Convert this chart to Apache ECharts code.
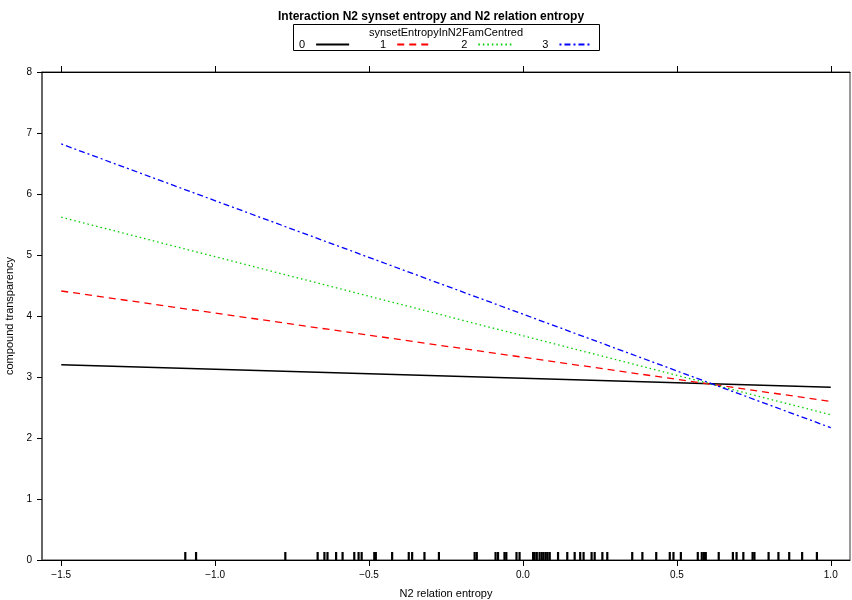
<!DOCTYPE html>
<html>
<head>
<meta charset="utf-8">
<script src="https://cdn.jsdelivr.net/npm/echarts@6/dist/echarts.min.js"></script>
<style>
  html, body { margin: 0; padding: 0; background: #fff; }
  #chart { width: 852px; height: 600px; }
</style>
</head>
<body>
<div id="chart"></div>
<script>
// endpoints of the fitted lines (x = -1.5 and x = 1.0)
const xEnds = [-1.5, 1.0]
const line0 = [3.20, 2.83]
const line1 = [4.41, 2.60]
const line2 = [5.62, 2.38]
const line3 = [6.82, 2.17]
const levelNames = ['0', '1', '2', '3']

// rug of observed N2 relation entropy values
const rugX = [
  -1.097, -1.062, -0.772, -0.667, -0.645, -0.635, -0.607, -0.586, -0.548, -0.534,
  -0.524, -0.483, -0.478, -0.425, -0.371, -0.360, -0.320, -0.273, -0.157, -0.150,
  -0.089, -0.081, -0.060, -0.054, -0.021, -0.011, 0.033, 0.038, 0.045, 0.054,
  0.061, 0.067, 0.074, 0.080, 0.087, 0.114, 0.144, 0.168, 0.186, 0.197,
  0.223, 0.233, 0.258, 0.274, 0.355, 0.388, 0.433, 0.477, 0.489, 0.513,
  0.568, 0.581, 0.588, 0.594, 0.636, 0.682, 0.694, 0.716, 0.746, 0.752,
  0.798, 0.830, 0.865, 0.907, 0.955
]

const xTicks = [-1.5, -1.0, -0.5, 0.0, 0.5, 1.0]

const chart = echarts.init(document.getElementById('chart'))

const fontFamily = 'Liberation Sans, Arial, sans-serif'
const fmtX = v => v.toFixed(1).replace('-', '\u2212')

const lineStyles = [
  { color: '#000000', width: 1.5, type: 'solid' },
  { color: '#ff0000', width: 1.3, type: [7, 5] },
  { color: '#00d000', width: 1.3, type: [1.5, 3] },
  { color: '#0000ff', width: 1.3, type: [2, 3, 6, 3] }
]

const lineSeries = [line0, line1, line2, line3].map((vals, i) => ({
  name: levelNames[i],
  type: 'line',
  symbol: 'none',
  silent: true,
  data: xEnds.map((x, j) => [x, vals[j]]),
  lineStyle: lineStyles[i],
  itemStyle: { color: lineStyles[i].color }
}))

const option = {
  backgroundColor: '#fff',
  animation: false,
  textStyle: { fontFamily },
  title: {
    text: 'Interaction N2 synset entropy and N2 relation entropy',
    left: 273,
    top: 6,
    textStyle: { fontSize: 12, fontWeight: 'bold', color: '#000', fontFamily }
  },
  graphic: [
    {
      type: 'rect',
      shape: { x: 293.5, y: 24.5, width: 306, height: 26 },
      style: { fill: 'none', stroke: '#000', lineWidth: 1 }
    },
    {
      type: 'text',
      x: 446,
      y: 27,
      style: {
        text: 'synsetEntropyInN2FamCentred',
        fontSize: 11,
        fontFamily,
        fill: '#000',
        align: 'center',
        verticalAlign: 'top'
      }
    }
  ],
  legend: {
    data: levelNames,
    left: 299,
    top: 39,
    align: 'right',
    itemGap: 30,
    itemWidth: 33,
    itemHeight: 8,
    padding: 0,
    itemStyle: { opacity: 0 },
    textStyle: { fontSize: 11, color: '#000', fontFamily, padding: [0, 6, 0, 0] }
  },
  grid: {
    left: 42, right: 2, top: 72, bottom: 40,
    outerBoundsMode: 'none',
    containLabel: false,
    show: true, borderColor: '#333', borderWidth: 1
  },
  xAxis: [
    {
      type: 'value',
      min: -1.5625,
      max: 1.0625,
      name: 'N2 relation entropy',
      nameLocation: 'middle',
      nameGap: 28,
      nameTextStyle: { fontSize: 11, color: '#000', fontFamily },
      axisLine: { show: true, onZero: false, lineStyle: { color: '#000' } },
      axisTick: { show: true, length: 6, customValues: xTicks, lineStyle: { color: '#000' } },
      axisLabel: { fontSize: 10, color: '#000', margin: 10, customValues: xTicks, formatter: fmtX },
      splitLine: { show: false }
    },
    {
      type: 'value',
      position: 'top',
      min: -1.5625,
      max: 1.0625,
      axisLine: { show: true, onZero: false, lineStyle: { color: '#000' } },
      axisTick: { show: true, length: 6, customValues: xTicks, lineStyle: { color: '#000' } },
      axisLabel: { show: false },
      splitLine: { show: false }
    }
  ],
  yAxis: {
    type: 'value',
    min: 0,
    max: 8,
    interval: 1,
    name: 'compound transparency',
    nameLocation: 'middle',
    nameGap: 21,
    nameTextStyle: { fontSize: 11, color: '#000', fontFamily },
    axisLine: { show: true, onZero: false, lineStyle: { color: '#555', width: 1.5 } },
    axisTick: { show: true, length: 5, lineStyle: { color: '#000' } },
    axisLabel: { fontSize: 10, color: '#000', margin: 10 },
    splitLine: { show: false }
  },
  series: [
    ...lineSeries,
    {
      name: 'rug',
      type: 'scatter',
      silent: true,
      symbol: 'rect',
      symbolSize: [2.2, 8],
      symbolOffset: [0, -4],
      itemStyle: { color: '#000', opacity: 1 },
      data: rugX.map(x => [x, 0])
    }
  ]
}

chart.setOption(option)
</script>
</body>
</html>
